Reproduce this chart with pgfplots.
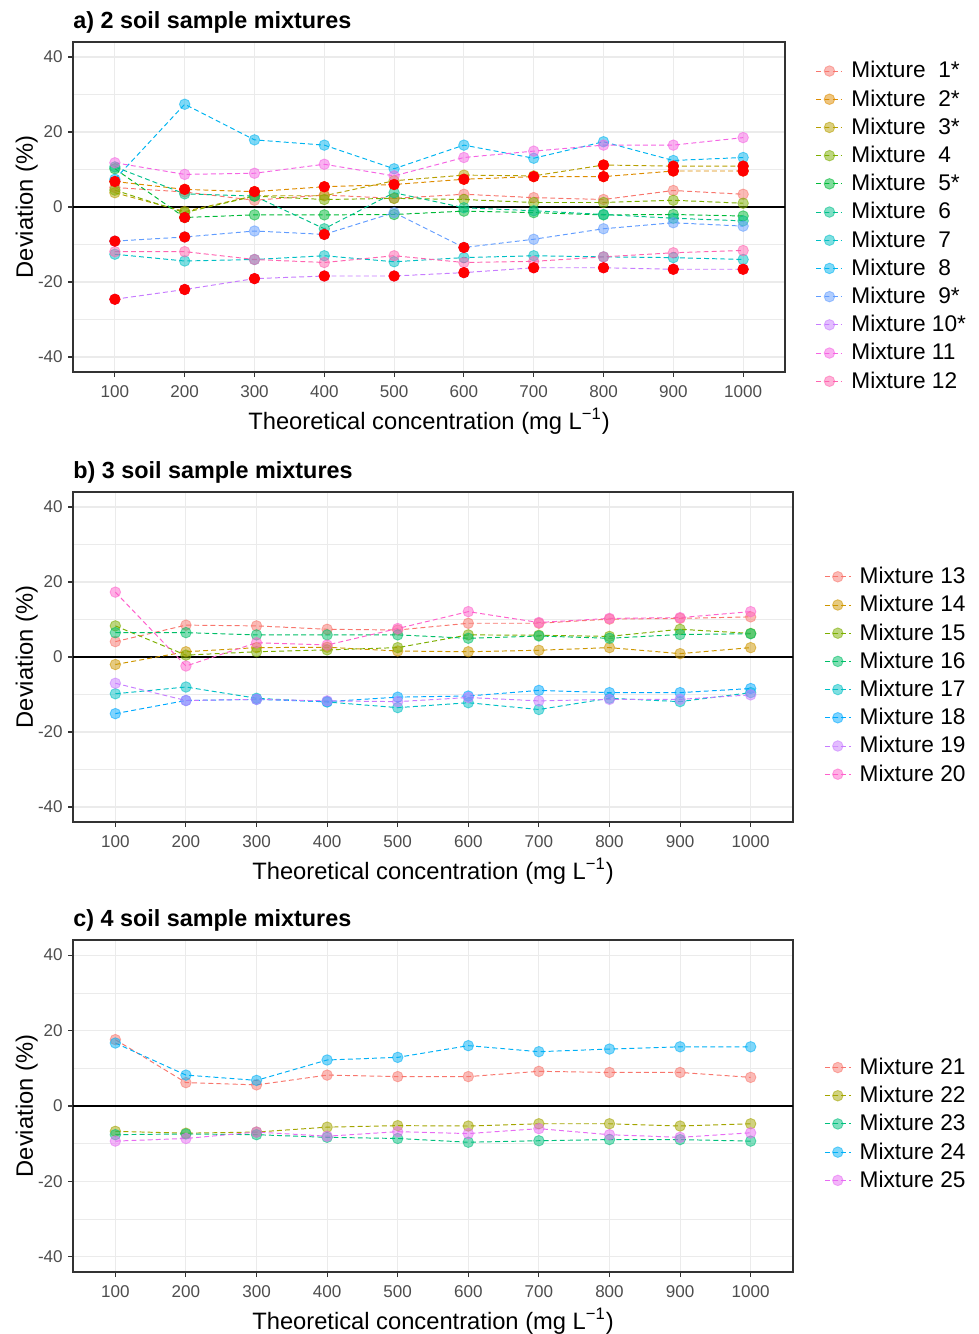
\documentclass[border=0pt]{standalone}
\usepackage{pgfplots}
\pgfplotsset{compat=1.18}
\usepackage{fontspec}
\setmainfont{Liberation Sans}

% ggplot hue palettes
\definecolor{grid92}{HTML}{EBEBEB}
\definecolor{grey20}{HTML}{333333}
\definecolor{grey30}{HTML}{4D4D4D}
\definecolor{a1}{HTML}{F8766D}\definecolor{a2}{HTML}{DE8C00}\definecolor{a3}{HTML}{B79F00}
\definecolor{a4}{HTML}{7CAE00}\definecolor{a5}{HTML}{00BA38}\definecolor{a6}{HTML}{00C08B}
\definecolor{a7}{HTML}{00BFC4}\definecolor{a8}{HTML}{00B4F0}\definecolor{a9}{HTML}{619CFF}
\definecolor{a10}{HTML}{C77CFF}\definecolor{a11}{HTML}{F564E3}\definecolor{a12}{HTML}{FF64B0}
\definecolor{b1}{HTML}{F8766D}\definecolor{b2}{HTML}{CD9600}\definecolor{b3}{HTML}{7CAE00}
\definecolor{b4}{HTML}{00BE67}\definecolor{b5}{HTML}{00BFC4}\definecolor{b6}{HTML}{00A9FF}
\definecolor{b7}{HTML}{C77CFF}\definecolor{b8}{HTML}{FF61CC}
\definecolor{c1}{HTML}{F8766D}\definecolor{c2}{HTML}{A3A500}\definecolor{c3}{HTML}{00BF7D}
\definecolor{c4}{HTML}{00B0F6}\definecolor{c5}{HTML}{E76BF3}

\pgfplotsset{
  panel/.style={
    scale only axis,
    xmin=40, xmax=1060, ymin=-44, ymax=44,
    xtick={100,200,...,1000},
    xticklabels={100,200,300,400,500,600,700,800,900,1000},
    ytick={-40,-20,0,20,40},
    yticklabels={-40,-20,0,20,40},
    minor ytick={-30,-10,10,30},
    xmajorgrids, ymajorgrids, yminorgrids,
    major grid style={draw=grid92, line width=0.6pt},
    minor grid style={draw=grid92, line width=0.35pt},
    axis line style={draw=grey20, line width=0.7pt},
    tick align=outside, tick pos=left,
    major tick length=0.1cm, minor tick length=0pt,
    tick style={draw=grey20, line width=0.6pt},
    ticklabel style={font=\fontsize{9.7}{11}\selectfont, text=grey30},
    xticklabel style={inner sep=0pt, anchor=north, yshift=-0.16cm},
    yticklabel style={inner sep=0pt, anchor=east, xshift=-0.1cm},
    xlabel={Theoretical concentration (mg L\textsuperscript{−1})},
    ylabel={Deviation (\%)},
    label style={font=\fontsize{13.5}{16}\selectfont},
    xlabel style={at={(axis description cs:0.5,0)}, anchor=base, yshift=-1.14cm, inner sep=0pt},
    title style={font=\bfseries\fontsize{13.3}{16}\selectfont, at={(axis description cs:0,1)},
      anchor=base west, yshift=0.06cm, inner sep=0pt},
    legend cell align=left,
    legend style={draw=none, fill=none, inner sep=0pt, anchor=west, row sep=5.2pt,
      font=\fontsize{12.9}{15}\selectfont, nodes={inner ysep=0pt, inner xsep=4.8pt}},
    legend image code/.code={\draw[mark repeat=2,mark phase=2,##1]
      plot coordinates {(0cm,0cm) (0.26cm,0cm) (0.52cm,0cm)};},
  },
  mix/.style={draw=#1, line width=0.55pt, dash pattern=on 2.8pt off 1.8pt,
    mark=*, mark size=3pt,
    mark options={solid, draw=#1, fill=#1, fill opacity=0.5, draw opacity=0.55, line width=0.5pt}},
  sig/.style={forget plot, only marks, mark=*, mark size=3pt,
    mark options={draw=red, fill=red}},
  zero/.style={forget plot, black, line width=0.7pt},
}

\begin{document}
\begin{tikzpicture}
\useasboundingbox (0,0) rectangle (19.58cm,-26.68cm);

% ---------------- a) ----------------
\begin{axis}[panel, at={(1.46cm,-7.44cm)}, anchor=south west,
  width=14.24cm, height=6.6cm,
  title={a) 2 soil sample mixtures},
  ylabel style={at={(axis description cs:-0.0562,0.5)}, anchor=base, inner sep=0pt},
  legend style={at={(1.043,0.442)}}]
\addplot[zero] coordinates {(40,0) (1060,0)};
\addplot[mix=a1] coordinates {(100,5.2)(200,4.0)(300,1.8)(400,3.2)(500,2.3)(600,3.4)(700,2.5)(800,2.0)(900,4.4)(1000,3.4)};
\addplot[mix=a2] coordinates {(100,6.8)(200,4.7)(300,4.1)(400,5.4)(500,6.0)(600,7.4)(700,8.1)(800,8.1)(900,9.6)(1000,9.6)};
\addplot[mix=a3] coordinates {(100,3.8)(200,-1.2)(300,3.0)(400,3.0)(500,7.0)(600,8.5)(700,8.3)(800,11.2)(900,10.9)(1000,10.9)};
\addplot[mix=a4] coordinates {(100,4.5)(200,-1.5)(300,2.9)(400,2.0)(500,2.3)(600,2.0)(700,1.2)(800,1.2)(900,1.8)(1000,1.0)};
\addplot[mix=a5] coordinates {(100,10.2)(200,-2.8)(300,-2.1)(400,-2.1)(500,-2.0)(600,-1.1)(700,-1.5)(800,-2.1)(900,-2.0)(1000,-2.4)};
\addplot[mix=a6] coordinates {(100,10.7)(200,3.5)(300,2.9)(400,-5.8)(500,3.8)(600,-0.2)(700,-1.0)(800,-2.0)(900,-3.0)(1000,-3.7)};
\addplot[mix=a7] coordinates {(100,-12.6)(200,-14.4)(300,-14.0)(400,-13.0)(500,-14.6)(600,-13.5)(700,-13.0)(800,-13.3)(900,-13.5)(1000,-14.0)};
\addplot[mix=a8] coordinates {(100,7.4)(200,27.4)(300,17.9)(400,16.5)(500,10.2)(600,16.5)(700,13.0)(800,17.4)(900,12.4)(1000,13.2)};
\addplot[mix=a9] coordinates {(100,-9.1)(200,-8.0)(300,-6.4)(400,-7.3)(500,-1.5)(600,-10.8)(700,-8.6)(800,-5.8)(900,-4.2)(1000,-5.1)};
\addplot[mix=a10] coordinates {(100,-24.6)(200,-22.0)(300,-19.1)(400,-18.4)(500,-18.4)(600,-17.5)(700,-16.2)(800,-16.2)(900,-16.6)(1000,-16.6)};
\addplot[mix=a11] coordinates {(100,11.8)(200,8.7)(300,9.0)(400,11.4)(500,8.3)(600,13.2)(700,14.9)(800,16.5)(900,16.5)(1000,18.5)};
\addplot[mix=a12] coordinates {(100,-11.9)(200,-11.9)(300,-14.0)(400,-14.8)(500,-13.0)(600,-14.8)(700,-14.5)(800,-13.3)(900,-12.2)(1000,-11.6)};
% significant deviations
\addplot[sig] coordinates {(100,6.8)(200,4.7)(300,4.1)(400,5.4)(500,6.0)(600,7.4)(700,8.1)(800,8.1)(900,9.6)(1000,9.6)};
\addplot[sig] coordinates {(800,11.2)(900,10.9)(1000,10.9)(200,-2.8)};
\addplot[sig] coordinates {(100,-9.1)(200,-8.0)(400,-7.3)(600,-10.8)};
\addplot[sig] coordinates {(100,-24.6)(200,-22.0)(300,-19.1)(400,-18.4)(500,-18.4)(600,-17.5)(700,-16.2)(800,-16.2)(900,-16.6)(1000,-16.6)};
\legend{Mixture\ \ 1*,Mixture\ \ 2*,Mixture\ \ 3*,Mixture\ \ 4,Mixture\ \ 5*,Mixture\ \ 6,
  Mixture\ \ 7,Mixture\ \ 8,Mixture\ \ 9*,Mixture 10*,Mixture 11,Mixture 12}
\end{axis}

% ---------------- b) ----------------
\begin{axis}[panel, at={(1.46cm,-16.44cm)}, anchor=south west,
  width=14.4cm, height=6.6cm,
  title={b) 3 soil sample mixtures},
  ylabel style={at={(axis description cs:-0.0556,0.5)}, anchor=base, inner sep=0pt},
  legend style={at={(1.043,0.444)}}]
\addplot[zero] coordinates {(40,0) (1060,0)};
\addplot[mix=b1] coordinates {(100,4.1)(200,8.5)(300,8.3)(400,7.4)(500,7.2)(600,9.0)(700,9.0)(800,10.1)(900,10.3)(1000,10.7)};
\addplot[mix=b2] coordinates {(100,-2.0)(200,1.4)(300,2.5)(400,2.6)(500,1.6)(600,1.4)(700,1.8)(800,2.5)(900,0.9)(1000,2.5)};
\addplot[mix=b3] coordinates {(100,8.3)(200,0.5)(300,1.4)(400,1.9)(500,2.5)(600,5.9)(700,5.8)(800,5.5)(900,7.4)(1000,6.3)};
\addplot[mix=b4] coordinates {(100,6.5)(200,6.5)(300,5.9)(400,5.9)(500,5.9)(600,5.0)(700,5.6)(800,5.0)(900,6.0)(1000,6.2)};
\addplot[mix=b5] coordinates {(100,-9.8)(200,-8.0)(300,-11.0)(400,-12.0)(500,-13.5)(600,-12.2)(700,-14.0)(800,-11.0)(900,-11.9)(1000,-9.5)};
\addplot[mix=b6] coordinates {(100,-15.1)(200,-11.6)(300,-11.3)(400,-11.9)(500,-10.7)(600,-10.4)(700,-8.9)(800,-9.5)(900,-9.5)(1000,-8.4)};
\addplot[mix=b7] coordinates {(100,-7.0)(200,-11.6)(300,-11.3)(400,-11.7)(500,-11.9)(600,-10.8)(700,-11.7)(800,-11.3)(900,-11.3)(1000,-10.1)};
\addplot[mix=b8] coordinates {(100,17.3)(200,-2.4)(300,3.8)(400,3.2)(500,7.6)(600,12.1)(700,9.2)(800,10.3)(900,10.5)(1000,12.1)};
\legend{Mixture 13,Mixture 14,Mixture 15,Mixture 16,Mixture 17,Mixture 18,Mixture 19,Mixture 20}
\end{axis}

% ---------------- c) ----------------
\begin{axis}[panel, at={(1.46cm,-25.44cm)}, anchor=south west,
  width=14.4cm, height=6.64cm,
  title={c) 4 soil sample mixtures},
  ylabel style={at={(axis description cs:-0.0556,0.5)}, anchor=base, inner sep=0pt},
  legend style={at={(1.043,0.446)}}]
\addplot[zero] coordinates {(40,0) (1060,0)};
\addplot[mix=c1] coordinates {(100,17.6)(200,6.2)(300,5.6)(400,8.2)(500,7.8)(600,7.8)(700,9.2)(800,8.9)(900,8.9)(1000,7.6)};
\addplot[mix=c2] coordinates {(100,-6.7)(200,-7.2)(300,-6.9)(400,-5.6)(500,-5.2)(600,-5.3)(700,-4.7)(800,-4.7)(900,-5.3)(1000,-4.7)};
\addplot[mix=c3] coordinates {(100,-7.6)(200,-7.4)(300,-7.6)(400,-8.3)(500,-8.6)(600,-9.6)(700,-9.2)(800,-8.9)(900,-8.9)(1000,-9.3)};
\addplot[mix=c4] coordinates {(100,16.7)(200,8.2)(300,6.8)(400,12.2)(500,12.9)(600,16.0)(700,14.4)(800,15.1)(900,15.7)(1000,15.7)};
\addplot[mix=c5] coordinates {(100,-9.3)(200,-8.6)(300,-6.9)(400,-8.0)(500,-6.8)(600,-7.3)(700,-6.0)(800,-7.6)(900,-8.3)(1000,-7.1)};
\legend{Mixture 21,Mixture 22,Mixture 23,Mixture 24,Mixture 25}
\end{axis}
\end{tikzpicture}
\end{document}
